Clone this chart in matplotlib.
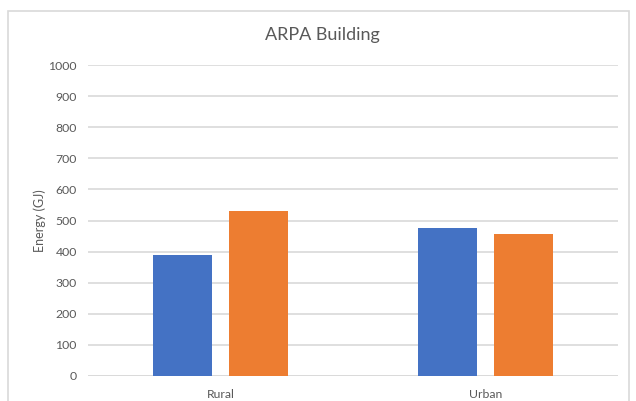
import matplotlib as mpl
import matplotlib.pyplot as plt
import numpy as np
from matplotlib.patches import Rectangle

mpl.rcParams['font.family'] = ['Lato', 'DejaVu Sans']

# energy use per site, two scenarios
categories = ['Rural', 'Urban']
series_a = [390, 476]
series_b = [531, 455]
yticks = [0, 100, 200, 300, 400, 500, 600, 700, 800, 900, 1000]

blue = '#4472c4'
orange = '#ed7d31'
grey_text = '#595959'
grid_col = '#d9d9d9'

fig = plt.figure(figsize=(6.36, 4.01), dpi=100)
ax = fig.add_axes([88/636, 25/401, 530/636, 311/401])

x = np.arange(len(categories))
w = 0.223
off = 0.143
ax.bar(x - off, series_a, width=w, color=blue, zorder=3)
ax.bar(x + off, series_b, width=w, color=orange, zorder=3)

ax.set_xlim(-0.5, 1.5)
ax.set_ylim(0, 1000)
ax.set_yticks(yticks)
ax.set_xticks(x)
ax.set_xticklabels(categories)
ax.yaxis.grid(True, color=grid_col, lw=1.2, zorder=0)
ax.tick_params(length=0, colors=grey_text, labelsize=8.8)
ax.tick_params(axis='y', pad=8)
ax.tick_params(axis='x', pad=9)
for s in ax.spines.values():
    s.set_visible(False)
ax.axhline(0, color=grid_col, lw=1.2, zorder=2)

ax.set_ylabel('Energy (GJ)', color=grey_text, fontsize=9, labelpad=2)
fig.text(322/636, 1 - 35/401, 'ARPA Building',
         ha='center', va='center', fontsize=13, color=grey_text)

# chart frame
fig.patches.append(Rectangle((8/636, -0.05), 621/636, 1 - 11/401 + 0.05,
                             transform=fig.transFigure, fill=False,
                             edgecolor=grid_col, lw=1.2, clip_on=False))

plt.savefig('out.png', dpi=100)
